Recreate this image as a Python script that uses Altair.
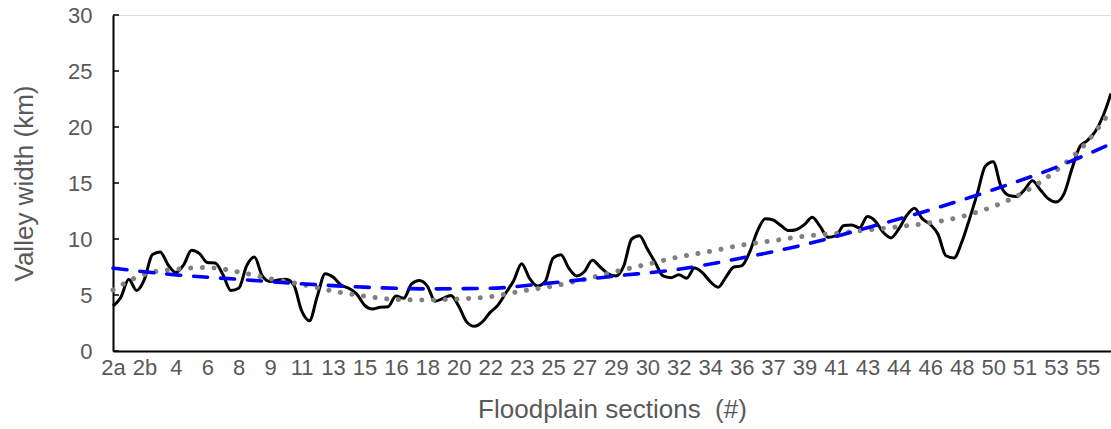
import altair as alt
import pandas as pd

# Category labels shown on the x axis (every 4th data point carries a label)
section_labels = ["2a", "2b", "4", "6", "8", "9", "11", "13", "15", "16",
                  "18", "20", "22", "23", "25", "27", "29", "30", "32", "34",
                  "36", "37", "39", "41", "43", "44", "46", "48", "50", "51",
                  "53", "55"]
label_step = 4

# Valley width (km) along the floodplain (black line)
valley_width = [
    4.0, 4.8, 6.4, 5.4, 6.4, 8.6, 8.85, 7.7, 7.0, 7.7,
    9.0, 8.7, 7.9, 7.85, 6.8, 5.4, 5.6, 7.6, 8.4, 6.7,
    6.2, 6.35, 6.4, 5.9, 3.6, 2.7, 4.9, 6.9, 6.6, 5.9,
    5.6, 5.1, 4.1, 3.75, 3.9, 3.95, 4.9, 4.7, 6.0, 6.3,
    5.8, 4.45, 4.7, 4.95, 4.0, 2.6, 2.2, 2.6, 3.45, 4.1,
    5.2, 6.3, 7.8, 6.5, 5.8, 6.2, 8.3, 8.6, 7.4, 6.7,
    7.1, 8.1, 7.5, 6.9, 6.7, 7.6, 10.0, 10.3, 9.1, 7.9,
    6.7, 6.55, 6.8, 6.5, 7.4, 7.0, 6.2, 5.7, 6.6, 7.5,
    7.6, 8.8, 10.7, 11.8, 11.7, 11.2, 10.75, 10.85, 11.3, 11.95,
    11.1, 10.15, 10.3, 11.2, 11.25, 11.0, 12.0, 11.6, 10.6, 10.1,
    10.9, 12.1, 12.75, 11.8, 11.3, 10.4, 8.5, 8.3, 9.7, 11.8,
    14.1, 16.5, 16.9, 14.7, 13.9, 13.8, 14.4, 15.2, 14.4, 13.6,
    13.3, 14.0, 16.2, 18.2, 18.8, 19.6, 21.0, 23.0,
]

# Blue dashed trend line
blue_idx = [0, 8, 16, 24, 32, 40, 48, 56, 64, 72, 80, 88, 96, 104, 112, 120, 127]
blue_trend = [7.4, 6.8, 6.4, 6.0, 5.7, 5.55, 5.6, 6.1, 6.7, 7.3, 8.3, 9.5,
              11.0, 12.6, 14.4, 16.4, 18.5]

# Grey dotted trend line
gray_idx = [0, 4, 8, 12, 16, 20, 24, 28, 32, 36, 40, 44, 48, 52, 56, 60, 64,
            68, 72, 76, 80, 84, 88, 92, 96, 100, 104, 108, 112, 116, 120, 124, 127]
gray_trend = [5.45, 6.85, 7.3, 7.45, 7.05, 6.45, 5.95, 5.35, 4.9, 4.6, 4.55,
              4.65, 4.85, 5.35, 5.8, 6.4, 7.1, 7.75, 8.4, 8.9, 9.45, 9.85,
              10.25, 10.5, 10.8, 11.1, 11.45, 12.0, 12.9, 14.2, 16.1, 18.7, 21.5]

y_ticks = [0, 5, 10, 15, 20, 25, 30]

font = "Liberation Sans"
grey_text = "#595959"

df = pd.DataFrame({"idx": list(range(len(valley_width))), "width": valley_width})
df_blue = pd.DataFrame({"idx": blue_idx, "width": blue_trend})
df_gray = pd.DataFrame({"idx": gray_idx, "width": gray_trend})
df_ticks = pd.DataFrame({"v": y_ticks})

x_scale = alt.Scale(domain=[0, len(valley_width) - 1], nice=False, zero=False)
y_scale = alt.Scale(domain=[0, 30], nice=False)

label_expr = "[" + ",".join("'%s'" % s for s in section_labels) + "][round(datum.value/%d)]" % label_step

x_axis = alt.Axis(
    title="Floodplain sections \u00a0(#)",
    values=[i * label_step for i in range(len(section_labels))],
    tickCount=100,
    labelExpr=label_expr,
    ticks=False, tickSize=0, grid=False,
    domainColor="black", domainWidth=2,
    labelColor=grey_text, labelFontSize=22, labelFont=font,
    titleColor=grey_text, titleFontSize=26, titleFont=font, titleFontWeight="normal",
    labelPadding=6, titlePadding=18, labelOverlap=False, labelFlush=False,
)
y_axis = alt.Axis(
    title="Valley width (km)",
    values=y_ticks,
    tickCount=20,
    ticks=False, tickSize=0, grid=False,
    domainColor="black", domainWidth=2,
    labelColor=grey_text, labelFontSize=22, labelFont=font,
    titleColor=grey_text, titleFontSize=26, titleFont=font, titleFontWeight="normal",
    labelPadding=21, titlePadding=30, labelOverlap=False,
)

base_line = alt.Chart(df).mark_line(color="black", strokeWidth=3, interpolate="monotone").encode(
    x=alt.X("idx:Q", scale=x_scale, axis=x_axis),
    y=alt.Y("width:Q", scale=y_scale, axis=y_axis),
)

gray_line = alt.Chart(df_gray).mark_line(
    color="#808080", strokeWidth=5, strokeDash=[0.1, 11.6], strokeCap="round",
    interpolate="monotone",
).encode(
    x=alt.X("idx:Q", scale=x_scale),
    y=alt.Y("width:Q", scale=y_scale),
)

blue_line = alt.Chart(df_blue).mark_line(
    color="#0000FF", strokeWidth=3.6, strokeDash=[14, 13], strokeCap="round",
    interpolate="monotone",
).encode(
    x=alt.X("idx:Q", scale=x_scale),
    y=alt.Y("width:Q", scale=y_scale),
)

tick_marks = alt.Chart(df_ticks).mark_rule(color="black", strokeWidth=1.5).encode(
    y=alt.Y("v:Q", scale=y_scale),
    x=alt.value(0),
    x2=alt.value(6),
)

chart = alt.layer(base_line, gray_line, blue_line, tick_marks).properties(
    width=998, height=336,
    autosize=alt.AutoSizeParams(type="none"),
    padding={"left": 113, "top": 15, "right": 0, "bottom": 78},
).configure_view(stroke=None).configure(background="white")

chart.save("out.html", embed_options={"renderer": "svg", "actions": False})
